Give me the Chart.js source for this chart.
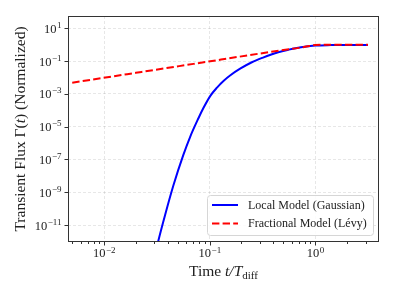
<!DOCTYPE html>
<html>
<head>
<meta charset="utf-8">
<script src="https://cdn.jsdelivr.net/npm/chart.js@4/dist/chart.umd.min.js"></script>
<style>
  html, body { margin: 0; padding: 0; background: #fff; }
  #wrap { width: 397px; height: 297px; }
</style>
</head>
<body>
<div id="wrap"><canvas id="chart" width="397" height="297"></canvas></div>
<script>
// values
const gaussTime = [0.0282, 0.0327, 0.0380, 0.0453, 0.0562, 0.0656, 0.0782, 0.0871, 0.1016, 0.1175, 0.1361,
                   0.1585, 0.1963, 0.2512, 0.3162, 0.4467, 0.5623, 0.6683, 0.7943, 1.0, 1.413, 1.995, 3.162];
const gaussFlux = [2.0e-14, 1.12e-12, 4.47e-11, 2.51e-9, 1.78e-7, 2.51e-6, 3.16e-5, 1.32e-4, 7.59e-4, 2.4e-3, 6.3e-3,
                   0.0141, 0.0355, 0.0851, 0.158, 0.347, 0.501, 0.631, 0.759, 0.891, 0.944, 0.955, 0.955];
const levyTime = [0.005, 0.02, 0.08, 0.3, 0.5, 0.7, 0.85, 1.0, 1.2, 2.0, 3.162];
const levyFlux = [0.0048, 0.0192, 0.077, 0.29, 0.47, 0.64, 0.8, 0.95, 1.0, 1.0, 1.0];

const xMajor = [0.01, 0.1, 1];
const xMinor = [0.005, 0.006, 0.007, 0.008, 0.009, 0.02, 0.03, 0.04, 0.05, 0.06, 0.07, 0.08, 0.09,
                0.2, 0.3, 0.4, 0.5, 0.6, 0.7, 0.8, 0.9, 2, 3, 4];
const yMajor = [1e1, 1e-1, 1e-3, 1e-5, 1e-7, 1e-9, 1e-11];

const seriesNames = ['Local Model (Gaussian)', 'Fractional Model (Lévy)'];

const SERIF = '"Liberation Serif", "DejaVu Serif", serif';
const INK = '#222';

function expo(v) {
  const e = Math.round(Math.log10(v));
  return (e < 0 ? '\u2212' : '') + Math.abs(e);
}

// frame, tick marks, 10^e labels, axis titles and legend
const decor = {
  id: 'decor',
  afterDraw(chart) {
    const ctx = chart.ctx;
    const a = chart.chartArea;
    const xs = chart.scales.x, ys = chart.scales.y;
    ctx.save();

    ctx.strokeStyle = '#333';
    ctx.lineWidth = 1;
    ctx.strokeRect(a.left + 0.5, a.top + 0.5, a.right - a.left - 1, a.bottom - a.top - 1);

    ctx.beginPath();
    xMajor.forEach(v => {
      const px = Math.round(xs.getPixelForValue(v)) + 0.5;
      ctx.moveTo(px, a.bottom); ctx.lineTo(px, a.bottom + 3.5);
    });
    xMinor.forEach(v => {
      const px = Math.round(xs.getPixelForValue(v)) + 0.5;
      if (px < a.left || px > a.right) return;
      ctx.moveTo(px, a.bottom); ctx.lineTo(px, a.bottom + 2);
    });
    yMajor.forEach(v => {
      const py = Math.round(ys.getPixelForValue(v)) + 0.5;
      ctx.moveTo(a.left, py); ctx.lineTo(a.left - 3.5, py);
    });
    ctx.stroke();

    ctx.fillStyle = INK;
    ctx.textBaseline = 'alphabetic';
    ctx.textAlign = 'left';
    const bigF = '12.5px ' + SERIF, smallF = '9px ' + SERIF;
    xMajor.forEach(v => {
      const px = xs.getPixelForValue(v);
      ctx.font = bigF; const w1 = ctx.measureText('10').width;
      ctx.font = smallF; const w2 = ctx.measureText(expo(v)).width;
      const x0 = px - (w1 + w2) / 2;
      ctx.font = bigF; ctx.fillText('10', x0, a.bottom + 15);
      ctx.font = smallF; ctx.fillText(expo(v), x0 + w1 + 0.5, a.bottom + 10.5);
    });
    yMajor.forEach(v => {
      const py = ys.getPixelForValue(v);
      ctx.font = bigF; const w1 = ctx.measureText('10').width;
      ctx.font = smallF; const w2 = ctx.measureText(expo(v)).width;
      const x0 = a.left - 7 - w1 - w2;
      ctx.font = bigF; ctx.fillText('10', x0, py + 4.5);
      ctx.font = smallF; ctx.fillText(expo(v), x0 + w1 + 0.5, py - 0.5);
    });

    const tf = '15.5px ' + SERIF, ti = 'italic 15.5px ' + SERIF, ts = '11px ' + SERIF;
    drawParts(ctx, [['Time ', tf, 0], ['t/T', ti, 0], ['diff', ts, 3]], (a.left + a.right) / 2, 276);

    ctx.save();
    ctx.translate(25, (a.top + a.bottom) / 2);
    ctx.rotate(-Math.PI / 2);
    drawParts(ctx, [['Transient Flux \u0393(', tf, 0], ['t', ti, 0], [') (Normalized)', tf, 0]], 0, 0);
    ctx.restore();

    // legend box
    const lx = 207.5, ly = 195.5, lw = 166, lh = 40;
    ctx.beginPath();
    ctx.roundRect(lx, ly, lw, lh, 3);
    ctx.fillStyle = 'rgba(255,255,255,0.85)';
    ctx.fill();
    ctx.strokeStyle = '#d6d6d6';
    ctx.lineWidth = 1;
    ctx.stroke();
    const rows = [205, 223.5];
    chart.data.datasets.forEach((ds, i) => {
      ctx.beginPath();
      ctx.strokeStyle = ds.borderColor;
      ctx.lineWidth = 2;
      ctx.setLineDash(ds.borderDash || []);
      ctx.moveTo(212, rows[i]); ctx.lineTo(238, rows[i]);
      ctx.stroke();
      ctx.setLineDash([]);
      ctx.fillStyle = INK;
      ctx.font = '12px ' + SERIF;
      ctx.textBaseline = 'middle';
      ctx.fillText(ds.label, 248, rows[i] + 0.5);
    });

    ctx.restore();
  }
};

function drawParts(ctx, parts, cx, baseY) {
  let total = 0;
  parts.forEach(p => { ctx.font = p[1]; total += ctx.measureText(p[0]).width; });
  let x = cx - total / 2;
  ctx.fillStyle = INK;
  ctx.textAlign = 'left';
  ctx.textBaseline = 'alphabetic';
  parts.forEach(p => {
    ctx.font = p[1];
    ctx.fillText(p[0], x, baseY + p[2]);
    x += ctx.measureText(p[0]).width;
  });
}

new Chart(document.getElementById('chart'), {
  type: 'line',
  data: {
    datasets: [
      {
        label: seriesNames[0],
        data: gaussTime.map((t, i) => ({ x: t, y: gaussFlux[i] })),
        borderColor: '#0000ff',
        borderWidth: 2,
        pointRadius: 0,
        cubicInterpolationMode: 'monotone',
        order: 1
      },
      {
        label: seriesNames[1],
        data: levyTime.map((t, i) => ({ x: t, y: levyFlux[i] })),
        borderColor: '#ff0000',
        borderWidth: 2,
        borderDash: [7.4, 3.2],
        pointRadius: 0,
        cubicInterpolationMode: 'monotone',
        order: 0
      }
    ]
  },
  options: {
    responsive: false,
    animation: false,
    layout: { padding: { left: 68, top: 16, right: 18, bottom: 55 } },
    plugins: { legend: { display: false }, tooltip: { enabled: false } },
    scales: {
      x: {
        type: 'logarithmic',
        bounds: 'data',
        min: 0.00456, max: 4.02,
        afterBuildTicks: s => { s.ticks = xMajor.map(v => ({ value: v })); },
        ticks: { display: false },
        grid: { color: 'rgba(0,0,0,0.12)', lineWidth: 0.8, drawTicks: false },
        border: { display: false, dash: [3, 2] }
      },
      y: {
        type: 'logarithmic',
        bounds: 'data',
        min: 9.3e-13, max: 56.2,
        afterBuildTicks: s => { s.ticks = yMajor.map(v => ({ value: v })); },
        ticks: { display: false },
        grid: { color: 'rgba(0,0,0,0.12)', lineWidth: 0.8, drawTicks: false },
        border: { display: false, dash: [3, 2] }
      }
    }
  },
  plugins: [decor]
});
</script>
</body>
</html>
